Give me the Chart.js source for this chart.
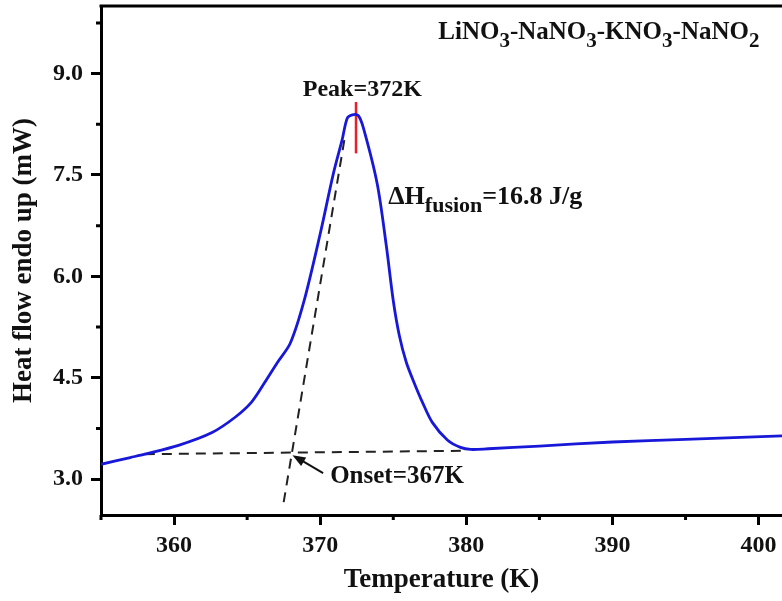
<!DOCTYPE html>
<html lang="en">
<head>
<meta charset="UTF-8">
<title>DSC curve</title>
<script src="https://cdn.jsdelivr.net/npm/chart.js"></script>
<style>
  html, body { margin: 0; padding: 0; background: #fff; }
  #wrap { width: 782px; height: 601px; }
</style>
</head>
<body>
<div id="wrap"><canvas id="dsc" width="782" height="601"></canvas></div>
<script>
// DSC heating curve
const temperature = [355.0, 357.0, 358.0, 360.3, 362.6, 364.2, 365.3, 366.2, 367.05, 367.95, 368.9, 370.0, 370.9, 371.5, 371.85, 372.2, 372.6, 372.95, 373.9, 374.52, 375.0, 375.41, 375.89, 376.44, 376.99, 377.67, 378.7, 379.6, 380.3, 381.5, 385.0, 390.0, 395.0, 401.6];
const heatFlow    = [3.22, 3.32, 3.37, 3.50, 3.69, 3.92, 4.14, 4.43, 4.72, 5.01, 5.64, 6.63, 7.52, 8.02, 8.34, 8.39, 8.38, 8.20, 7.37, 6.46, 5.64, 5.13, 4.73, 4.42, 4.14, 3.84, 3.58, 3.47, 3.44, 3.45, 3.49, 3.55, 3.59, 3.64];

// construction lines
const baselineT = [358.0, 379.8];
const baselineY = [3.37, 3.42];
const tangentT = [367.5, 371.7];
const tangentY = [2.66, 8.08];
const peakT = [372.45, 372.45];
const peakY = [7.82, 8.58];
const arrowT = [370.2, 368.1];
const arrowY = [3.09, 3.355];

const xTicks = [360, 370, 380, 390, 400];
const xMinor = [355, 365, 375, 385, 395];
const yTicks = [3.0, 4.5, 6.0, 7.5, 9.0];
const yMinor = [3.75, 5.25, 6.75, 8.25, 9.75];

const serif = "'Liberation Serif', 'Times New Roman', serif";

function pts(xs, ys) {
    return xs.map((x, i) => ({ x: x, y: ys[i] }));
}

// minor ticks, top frame line, the arrow and the labels
const extras = {
    id: 'extras',
    afterDraw(chart) {
        const ctx = chart.ctx;
        const a = chart.chartArea;
        const xs = chart.scales.x, ys = chart.scales.y;
        ctx.save();
        ctx.strokeStyle = '#000';
        ctx.lineWidth = 3;
        ctx.beginPath();
        ctx.moveTo(a.left - 1.5, a.top);
        ctx.lineTo(a.right, a.top);
        yMinor.forEach(v => {
            const p = ys.getPixelForValue(v);
            ctx.moveTo(a.left, p);
            ctx.lineTo(a.left - 5, p);
        });
        xMinor.forEach(v => {
            const p = xs.getPixelForValue(v);
            ctx.moveTo(p, a.bottom);
            ctx.lineTo(p, a.bottom + 5);
        });
        ctx.stroke();

        // arrow to the onset point
        const x0 = xs.getPixelForValue(arrowT[0]), y0 = ys.getPixelForValue(arrowY[0]);
        const x1 = xs.getPixelForValue(arrowT[1]), y1 = ys.getPixelForValue(arrowY[1]);
        const ang = Math.atan2(y1 - y0, x1 - x0);
        ctx.lineWidth = 2;
        ctx.strokeStyle = '#111';
        ctx.fillStyle = '#111';
        ctx.beginPath();
        ctx.moveTo(x0, y0);
        ctx.lineTo(x1 - 8 * Math.cos(ang), y1 - 8 * Math.sin(ang));
        ctx.stroke();
        ctx.beginPath();
        ctx.moveTo(x1, y1);
        ctx.lineTo(x1 - 13 * Math.cos(ang) + 5 * Math.sin(ang), y1 - 13 * Math.sin(ang) - 5 * Math.cos(ang));
        ctx.lineTo(x1 - 13 * Math.cos(ang) - 5 * Math.sin(ang), y1 - 13 * Math.sin(ang) + 5 * Math.cos(ang));
        ctx.closePath();
        ctx.fill();

        // text runs: [text, size, baseline shift]
        function runs(t, v, parts, align) {
            let x = xs.getPixelForValue(t);
            const y = ys.getPixelForValue(v);
            ctx.textBaseline = 'alphabetic';
            ctx.textAlign = 'left';
            if (align === 'center') {
                let w = 0;
                parts.forEach(p => { ctx.font = 'bold ' + p[1] + 'px ' + serif; w += ctx.measureText(p[0]).width; });
                x -= w / 2;
            }
            parts.forEach(p => {
                ctx.font = 'bold ' + p[1] + 'px ' + serif;
                ctx.fillText(p[0], x, y + p[2]);
                x += ctx.measureText(p[0]).width;
            });
        }
        ctx.fillStyle = '#111';
        runs(372.88, 8.672, [['Peak=372K', 24, 0]], 'center');
        runs(374.66, 7.077, [['\u0394H', 26, 0], ['fusion', 22, 8], ['=16.8 J/g', 26, 0]]);
        runs(370.68, 2.94, [['Onset=367K', 25, 0]]);
        runs(378.08, 9.514, [
            ['LiNO', 25, 0], ['3', 21, 8], ['-NaNO', 25, 0], ['3', 21, 8],
            ['-KNO', 25, 0], ['3', 21, 8], ['-NaNO', 25, 0], ['2', 21, 8]
        ]);
        ctx.restore();
    }
};

const ctx = document.getElementById('dsc').getContext('2d');
const chart = new Chart(ctx, {
    type: 'line',
    data: {
        datasets: [
            {
                label: 'Heat flow',
                data: pts(temperature, heatFlow),
                borderColor: '#1818d8',
                borderWidth: 2.8,
                pointRadius: 0,
                tension: 0.3,
                fill: false
            },
            {
                label: 'Baseline',
                data: pts(baselineT, baselineY),
                borderColor: '#222',
                borderWidth: 2,
                borderDash: [10, 7],
                pointRadius: 0
            },
            {
                label: 'Tangent',
                data: pts(tangentT, tangentY),
                borderColor: '#222',
                borderWidth: 2,
                borderDash: [10, 7],
                pointRadius: 0
            },
            {
                label: 'Peak',
                data: pts(peakT, peakY),
                borderColor: '#e8202a',
                borderWidth: 2.5,
                pointRadius: 0
            }
        ]
    },
    options: {
        responsive: false,
        animation: false,
        devicePixelRatio: 1,
        layout: { padding: { top: 6, right: 0, left: 0, bottom: 0 } },
        plugins: {
            legend: { display: false },
            tooltip: { enabled: false }
        },
        scales: {
            x: {
                type: 'linear',
                min: 355,
                max: 401.6,
                afterBuildTicks: axis => { axis.ticks = xTicks.map(v => ({ value: v })); },
                afterFit: axis => {
                    axis.height = 86;
                    axis.paddingLeft = 0;
                    axis.paddingRight = 0;
                },
                border: { display: true, width: 3, color: '#000' },
                grid: { drawOnChartArea: false, drawTicks: true, tickLength: 10, tickWidth: 3, color: '#000' },
                ticks: {
                    color: '#111',
                    padding: 6,
                    maxRotation: 0,
                    font: { family: serif, size: 24, weight: 'bold' },
                    callback: v => v
                },
                title: {
                    display: true,
                    text: 'Temperature (K)',
                    color: '#111',
                    padding: { top: 0, bottom: 5 },
                    font: { family: serif, size: 27, weight: 'bold' }
                }
            },
            y: {
                type: 'linear',
                min: 2.47,
                max: 10.0,
                afterBuildTicks: axis => { axis.ticks = yTicks.map(v => ({ value: v })); },
                afterFit: axis => {
                    axis.width = 101;
                    axis.paddingTop = 0;
                    axis.paddingBottom = 0;
                },
                border: { display: true, width: 3, color: '#000' },
                grid: { drawOnChartArea: false, drawTicks: true, tickLength: 10, tickWidth: 3, color: '#000' },
                ticks: {
                    color: '#111',
                    padding: 8,
                    font: { family: serif, size: 24, weight: 'bold' },
                    callback: v => v.toFixed(1)
                },
                title: {
                    display: true,
                    text: 'Heat flow endo up (mW)',
                    color: '#111',
                    padding: { top: 8, bottom: 0 },
                    font: { family: serif, size: 27, weight: 'bold' }
                }
            }
        }
    },
    plugins: [extras]
});
</script>
</body>
</html>
